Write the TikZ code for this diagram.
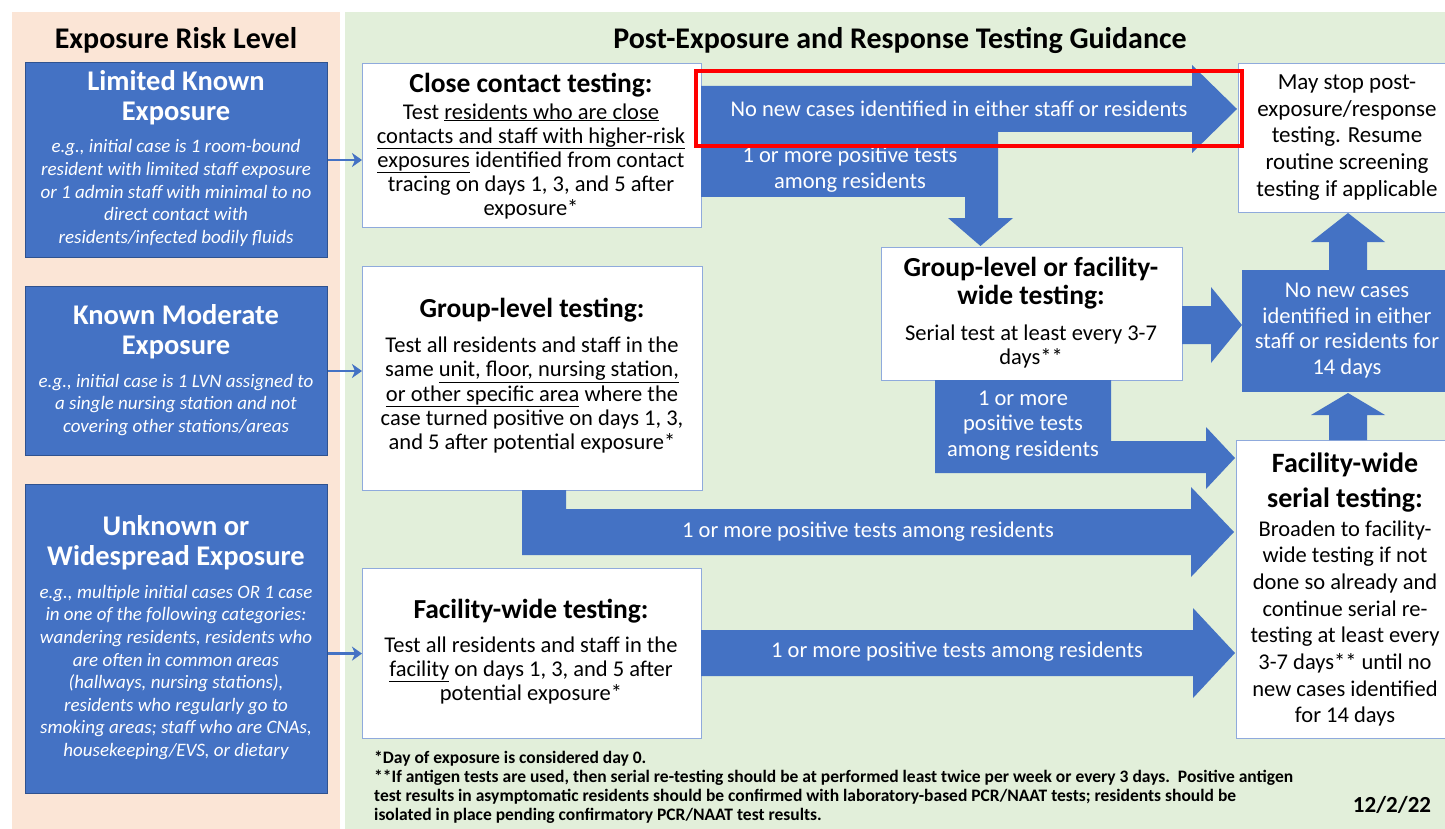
\documentclass[tikz,border=0pt]{standalone}
\usepackage{fontspec}
\setmainfont{Carlito}
\usetikzlibrary{positioning,arrows.meta}

\definecolor{peach}{HTML}{FBE5D6}
\definecolor{mint}{HTML}{E2EFDA}
\definecolor{cblue}{HTML}{4472C4}
\definecolor{edgeblue}{HTML}{2F528F}
\definecolor{lightedge}{HTML}{8FAADC}

\tikzset{
  riskbox/.style={draw=edgeblue, fill=cblue, line width=1pt, anchor=north west, inner sep=0pt, minimum width=302pt},
  testbox/.style={draw=lightedge, fill=white, line width=1.2pt, anchor=north west, inner sep=0pt},
  paneltitle/.style={font=\fontsize{30}{34}\selectfont\bfseries, inner sep=0pt},
  riskhead/.style={text=white, font=\fontsize{28.5}{29.5}\selectfont\bfseries, align=center, inner sep=0pt},
  risknote/.style={text=white, font=\fontsize{19}{22.6}\selectfont\itshape, align=center, inner sep=0pt},
  boxhead/.style={font=\fontsize{27.5}{28}\selectfont\bfseries, align=center, inner sep=0pt},
  boxtext/.style={font=\fontsize{22.5}{24.2}\selectfont, align=center, inner sep=0pt},
  sidetext/.style={font=\fontsize{23}{26.7}\selectfont, align=center, inner sep=0pt},
  flowtext/.style={text=white, font=\fontsize{22.5}{25.5}\selectfont, align=center, inner sep=0pt},
  blockarrow/.style={fill=cblue, draw=none},
  thinarrow/.style={-{Stealth[length=10pt, width=14pt, inset=3pt]}, cblue, line width=2.5pt},
  notetext/.style={font=\fontsize{17.5}{19}\selectfont\bfseries, align=left, inner sep=0pt}
}

\begin{document}
\begin{tikzpicture}[x=1pt, y=-1pt]
\useasboundingbox (0,0) rectangle (1445,829);
\fill[white] (0,0) rectangle (1445,829);

% background panels
\fill[peach] (12,12) rectangle (340,829);
\fill[mint] (345,12) rectangle (1445,829);

\node[paneltitle] (risktitle) at (176,40) {Exposure Risk Level};
\node[paneltitle] (guidetitle) at (900,40) {Post-Exposure and Response Testing Guidance};

% exposure levels
\node[riskbox, minimum height=195pt] (lim) at (25,62) {};
\node[riskhead] (limhead) at (176,97.5) {Limited Known\\Exposure};
\node[risknote] (limnote) at (176,193) {e.g., initial case is 1 room-bound\\resident with limited staff exposure\\or 1 admin staff with minimal to no\\direct contact with\\residents/infected bodily fluids};

\node[riskbox, minimum height=169pt] (mod) at (25,286) {};
\node[riskhead] (modhead) at (176,331.5) {Known Moderate\\Exposure};
\node[risknote] (modnote) at (176,405) {e.g., initial case is 1 LVN assigned to\\a single nursing station and not\\covering other stations/areas};

\node[riskbox, minimum height=309pt] (unk) at (25,484) {};
\node[riskhead] (unkhead) at (176,542.5) {Unknown or\\Widespread Exposure};
\node[risknote] (unknote) at (176,672.5) {e.g., multiple initial cases OR 1 case\\in one of the following categories:\\wandering residents, residents who\\are often in common areas\\(hallways, nursing stations),\\residents who regularly go to\\smoking areas; staff who are CNAs,\\housekeeping/EVS, or dietary};

% first tests
\node[testbox, minimum width=339pt, minimum height=164pt] (close) at (362,63) {};
\node[boxhead] (closehead) at (531,85) {Close contact testing:};
\node[boxtext] (closetext) at (531,161.5) {Test \underline{residents who are close}\\\underline{contacts and staff with higher-risk}\\\underline{exposures} identified from contact\\tracing on days 1, 3, and 5 after\\exposure*};

\node[testbox, minimum width=340pt, minimum height=224pt] (group) at (362,266) {};
\node[boxhead] (grouphead) at (532,310) {Group-level testing:};
\node[boxtext] (grouptext) at (532,395) {Test all residents and staff in the\\same \underline{unit, floor, nursing station,}\\\underline{or other specific area} where the\\case turned positive on days 1, 3,\\and 5 after potential exposure*};

\node[testbox, minimum width=339pt, minimum height=170pt] (facility) at (362,568) {};
\node[boxhead] (facilityhead) at (531,611) {Facility-wide testing:};
\node[boxtext] (facilitytext) at (531,670.5) {Test all residents and staff in the\\\underline{facility} on days 1, 3, and 5 after\\potential exposure*};

\draw[thinarrow] (lim.east) -- (lim.east -| close.west);
\draw[thinarrow] (mod.east) -- (mod.east -| group.west);
\draw[thinarrow] (facility.west -| unk.east) -- (facility.west);

% follow-up tests
\node[testbox, minimum width=301pt, minimum height=133pt] (gf) at (881,247) {};
\node[boxhead] (gfhead) at (1031,283.5) {Group-level or facility-\\wide testing:};
\node[boxtext] (gftext) at (1031,346.5) {Serial test at least every 3-7\\days**};

\node[testbox, minimum width=218pt, minimum height=149pt] (stop) at (1238,63) {};
\node[sidetext] (stoptext) at (1347,137.5) {May stop post-\\exposure/response\\testing. Resume\\routine screening\\testing if applicable};

\node[fill=cblue, anchor=north west, inner sep=0pt, minimum width=214pt, minimum height=122pt] (nonew) at (1242,270) {};
\node[sidetext, text=white, font=\fontsize{22.5}{25.7}\selectfont] (nonewtext) at (1347,330.5) {No new cases\\identified in either\\staff or residents for\\14 days};

\node[testbox, minimum width=220pt, minimum height=298pt] (serial) at (1236,440) {};
\node[boxhead, font=\fontsize{28}{35}\selectfont\bfseries] (serialhead) at (1345,482.5) {Facility-wide\\serial testing:};
\node[sidetext, font=\fontsize{22.5}{26.7}\selectfont] (serialtext) at (1345,623.5) {Broaden to facility-\\wide testing if not\\done so already and\\continue serial re-\\testing at least every\\3-7 days** until no\\new cases identified\\for 14 days};

% block arrows
\fill[blockarrow] (701,86) -- (1192,86) -- (1192,65) -- (1237,109) -- (1192,153) -- (1192,132) -- (701,132) -- cycle;
\node[flowtext] (nonewlabel) at (959,109) {No new cases identified in either staff or residents};

\fill[blockarrow] (701,132) -- (998,132) -- (998,218) -- (1013,218) -- (980.5,246) -- (948,218) -- (965,218) -- (965,197) -- (701,197) -- cycle;
\node[flowtext] (closepos) at (850,169.5) {1 or more positive tests\\among residents};

\fill[blockarrow] (1182,306) -- (1211,306) -- (1211,287) -- (1242,325) -- (1211,363) -- (1211,344) -- (1182,344) -- cycle;

\fill[blockarrow] (1329,270) -- (1329,242) -- (1311,242) -- (1348,213) -- (1385,242) -- (1367,242) -- (1367,270) -- cycle;
\fill[blockarrow] (1329,440) -- (1329,415) -- (1311,415) -- (1348,393) -- (1385,415) -- (1367,415) -- (1367,440) -- cycle;

\fill[blockarrow] (935,380) -- (1111,380) -- (1111,441) -- (1206,441) -- (1206,427) -- (1235,458) -- (1206,489) -- (1206,473) -- (935,473) -- cycle;
\node[flowtext] (gfpos) at (1023,425.5) {1 or more\\positive tests\\among residents};

\fill[blockarrow] (522,490) -- (566,490) -- (566,509) -- (1191,509) -- (1191,487) -- (1234,532) -- (1191,577) -- (1191,555) -- (522,555) -- cycle;
\node[flowtext] (grouppos) at (868,532) {1 or more positive tests among residents};

\fill[blockarrow] (701,630) -- (1193,630) -- (1193,608) -- (1235,653) -- (1193,698) -- (1193,676) -- (701,676) -- cycle;
\node[flowtext] (facilitypos) at (957,652) {1 or more positive tests among residents};

% highlight
\draw[red, line width=4pt] (695.5,70.7) rectangle (1241.6,145.7);

% notes
\node[notetext, anchor=west] (notes) at (374,787.5) {*Day of exposure is considered day 0.\\**If antigen tests are used, then serial re-testing should be at performed least twice per week or every 3 days.\ \ Positive antigen\\test results in asymptomatic residents should be confirmed with laboratory-based PCR/NAAT tests; residents should be\\isolated in place pending confirmatory PCR/NAAT test results.};
\node[font=\fontsize{23}{26}\selectfont\bfseries, inner sep=0pt] (date) at (1392,805) {12/2/22};
\end{tikzpicture}
\end{document}
